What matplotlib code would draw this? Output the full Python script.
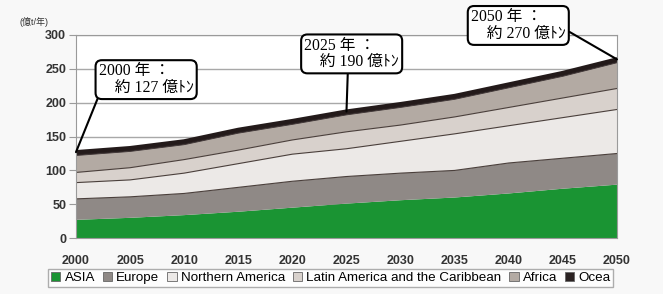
import matplotlib
matplotlib.use("Agg")
from matplotlib import pyplot as plt
from matplotlib.patches import Patch
import numpy as np

years = [2000, 2005, 2010, 2015, 2020, 2025, 2030, 2035, 2040, 2045, 2050]
asia = [27, 30, 34, 39, 45, 51, 56, 60, 66, 73, 79]
europe = [31, 31, 32, 36, 39, 40, 40, 40, 45, 45, 46]
n_america = [24, 25, 30, 35, 40, 41, 47, 54, 55, 60, 65]
latin = [15, 18, 20, 20, 21, 25, 24, 25, 27, 29, 31]
africa = [25, 24, 22, 25, 23, 25, 26, 26, 29, 32, 38]
ocea = [5, 5, 5, 5, 5, 5, 5, 5, 5, 5, 5]

labels = ["ASIA", "Europe", "Northern America",
          "Latin America and the Caribbean", "Africa", "Ocea"]
colors = ["#1a9433", "#8f8986", "#ece9e7", "#d8d1cc", "#b3aaa3", "#2b2222"]

notes = ["2000 年 ：\n　約 127 億ﾄﾝ", "2025 年 ：\n　約 190 億ﾄﾝ", "2050 年 ：\n　約 270 億ﾄﾝ"]
note_years = [2000, 2025, 2050]

plt.rcParams['font.family'] = ['Liberation Sans', 'Noto Sans CJK JP']

fig = plt.figure(figsize=(6.63, 2.94), dpi=100, facecolor="#f8f8f8")
ax = fig.add_axes([0.1146, 0.19, 0.816, 0.691])
ax.set_facecolor("white")

layers = [asia, europe, n_america, latin, africa, ocea]
ax.stackplot(years, layers, colors=colors, linewidth=0)

cum = np.cumsum(np.array(layers, dtype=float), axis=0)
for row in cum[1:4]:
    ax.plot(years, row, color="#4a3f3b", lw=0.8)
ax.plot(years, cum[4], color="#3a3030", lw=0.6)
ax.plot(years, cum[5], color="#231a1a", lw=3.0)

ax.set_xlim(2000, 2050)
ax.set_ylim(0, 300)
ax.set_xticks(range(2000, 2051, 5))
ax.set_xticks(range(2000, 2051, 1), minor=True)
ax.set_yticks(range(0, 301, 50))
ax.yaxis.grid(True, color="#a8a8a8", lw=1)
ax.set_axisbelow(True)
for s in ax.spines.values():
    s.set_color("#9a9a9a")
ax.tick_params(axis="y", length=5, color="#9a9a9a", labelsize=9, pad=2)
ax.tick_params(axis="x", which="major", length=0, labelsize=9, pad=12)
ax.tick_params(axis="x", which="minor", direction="in", length=3, color="#9a9a9a")
for t in ax.get_xticklabels() + ax.get_yticklabels():
    t.set_fontweight("bold")
    t.set_color("#333333")

fig.text(0.03, 0.915, "(億t/年)", fontsize=6.5, color="#333333")

totals = cum[5]
text_pos = [(2002.1, 210), (2021.1, 248), (2036.5, 290)]
rel = [(0.0, 0.0), (0.46, 0.0), (1.0, 0.37)]
for note, yr, pos, rp in zip(notes, note_years, text_pos, rel):
    ax.annotate(note, xy=(yr, totals[years.index(yr)]), xytext=pos,
                textcoords="data", fontsize=11.3, ha="left", va="bottom",
                linespacing=1.05,
                family=["Liberation Serif", "Noto Sans CJK JP"],
                bbox=dict(boxstyle="round,pad=0.2,rounding_size=0.4",
                          fc="white", ec="black", lw=1.5),
                arrowprops=dict(arrowstyle="-", lw=1.5, color="black",
                                relpos=rp, shrinkA=0, shrinkB=0),
                annotation_clip=False, zorder=5)

handles = [Patch(facecolor=c, edgecolor="#666666", lw=0.6, label=l)
           for c, l in zip(colors, labels)]
fig.legend(handles=handles, loc="center", bbox_to_anchor=(0.499, 0.055),
           ncol=6, fontsize=9.6, frameon=True, fancybox=False,
           edgecolor="#9a9a9a", handlelength=0.7, handleheight=0.7,
           handletextpad=0.3, columnspacing=0.6, borderpad=0.2)

fig.savefig("out.png", dpi=100, facecolor=fig.get_facecolor())
